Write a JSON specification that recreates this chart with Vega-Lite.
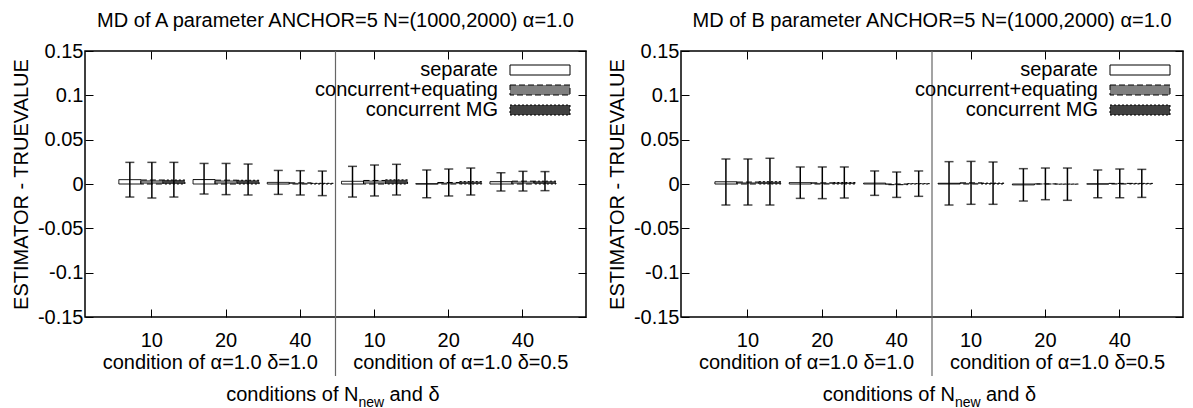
{
  "$schema": "https://vega.github.io/schema/vega-lite/v6.json",
  "padding": {"left": 10, "top": 10, "right": 2, "bottom": 0},
  "spacing": 18,
  "datasets": {
    "est": [
      {"panel": "A", "cond": "10 δ=1.0", "series": "separate", "value": 0.0049, "lo": -0.0147, "hi": 0.0244},
      {"panel": "A", "cond": "10 δ=1.0", "series": "concurrent+equating", "value": 0.0045, "lo": -0.0158, "hi": 0.0244},
      {"panel": "A", "cond": "10 δ=1.0", "series": "concurrent MG", "value": 0.0045, "lo": -0.0147, "hi": 0.0244},
      {"panel": "A", "cond": "20 δ=1.0", "series": "separate", "value": 0.0050, "lo": -0.0113, "hi": 0.0232},
      {"panel": "A", "cond": "20 δ=1.0", "series": "concurrent+equating", "value": 0.0043, "lo": -0.0120, "hi": 0.0232},
      {"panel": "A", "cond": "20 δ=1.0", "series": "concurrent MG", "value": 0.0042, "lo": -0.0124, "hi": 0.0225},
      {"panel": "A", "cond": "40 δ=1.0", "series": "separate", "value": 0.0018, "lo": -0.0117, "hi": 0.0153},
      {"panel": "A", "cond": "40 δ=1.0", "series": "concurrent+equating", "value": 0.0013, "lo": -0.0124, "hi": 0.0150},
      {"panel": "A", "cond": "40 δ=1.0", "series": "concurrent MG", "value": 0.0008, "lo": -0.0131, "hi": 0.0146},
      {"panel": "A", "cond": "10 δ=0.5", "series": "separate", "value": 0.0030, "lo": -0.0147, "hi": 0.0199},
      {"panel": "A", "cond": "10 δ=0.5", "series": "concurrent+equating", "value": 0.0040, "lo": -0.0135, "hi": 0.0214},
      {"panel": "A", "cond": "10 δ=0.5", "series": "concurrent MG", "value": 0.0047, "lo": -0.0124, "hi": 0.0222},
      {"panel": "A", "cond": "20 δ=0.5", "series": "separate", "value": 0.0003, "lo": -0.0155, "hi": 0.0158},
      {"panel": "A", "cond": "20 δ=0.5", "series": "concurrent+equating", "value": 0.0017, "lo": -0.0135, "hi": 0.0169},
      {"panel": "A", "cond": "20 δ=0.5", "series": "concurrent MG", "value": 0.0027, "lo": -0.0124, "hi": 0.0180},
      {"panel": "A", "cond": "40 δ=0.5", "series": "separate", "value": 0.0026, "lo": -0.0079, "hi": 0.0127},
      {"panel": "A", "cond": "40 δ=0.5", "series": "concurrent+equating", "value": 0.0032, "lo": -0.0079, "hi": 0.0143},
      {"panel": "A", "cond": "40 δ=0.5", "series": "concurrent MG", "value": 0.0032, "lo": -0.0075, "hi": 0.0140},
      {"panel": "B", "cond": "10 δ=1.0", "series": "separate", "value": 0.0025, "lo": -0.0237, "hi": 0.0282},
      {"panel": "B", "cond": "10 δ=1.0", "series": "concurrent+equating", "value": 0.0022, "lo": -0.0237, "hi": 0.0282},
      {"panel": "B", "cond": "10 δ=1.0", "series": "concurrent MG", "value": 0.0026, "lo": -0.0237, "hi": 0.0290},
      {"panel": "B", "cond": "20 δ=1.0", "series": "separate", "value": 0.0016, "lo": -0.0162, "hi": 0.0192},
      {"panel": "B", "cond": "20 δ=1.0", "series": "concurrent+equating", "value": 0.0013, "lo": -0.0165, "hi": 0.0192},
      {"panel": "B", "cond": "20 δ=1.0", "series": "concurrent MG", "value": 0.0017, "lo": -0.0158, "hi": 0.0192},
      {"panel": "B", "cond": "40 δ=1.0", "series": "separate", "value": 0.0010, "lo": -0.0128, "hi": 0.0147},
      {"panel": "B", "cond": "40 δ=1.0", "series": "concurrent+equating", "value": -0.0008, "lo": -0.0151, "hi": 0.0135},
      {"panel": "B", "cond": "40 δ=1.0", "series": "concurrent MG", "value": 0.0004, "lo": -0.0139, "hi": 0.0147},
      {"panel": "B", "cond": "10 δ=0.5", "series": "separate", "value": 0.0008, "lo": -0.0237, "hi": 0.0252},
      {"panel": "B", "cond": "10 δ=0.5", "series": "concurrent+equating", "value": 0.0013, "lo": -0.0229, "hi": 0.0255},
      {"panel": "B", "cond": "10 δ=0.5", "series": "concurrent MG", "value": 0.0010, "lo": -0.0229, "hi": 0.0248},
      {"panel": "B", "cond": "20 δ=0.5", "series": "separate", "value": -0.0010, "lo": -0.0192, "hi": 0.0173},
      {"panel": "B", "cond": "20 δ=0.5", "series": "concurrent+equating", "value": 0.0001, "lo": -0.0177, "hi": 0.0180},
      {"panel": "B", "cond": "20 δ=0.5", "series": "concurrent MG", "value": -0.0002, "lo": -0.0184, "hi": 0.0180},
      {"panel": "B", "cond": "40 δ=0.5", "series": "separate", "value": 0.0001, "lo": -0.0155, "hi": 0.0158},
      {"panel": "B", "cond": "40 δ=0.5", "series": "concurrent+equating", "value": 0.0007, "lo": -0.0155, "hi": 0.0169},
      {"panel": "B", "cond": "40 δ=0.5", "series": "concurrent MG", "value": 0.0007, "lo": -0.0151, "hi": 0.0165}
    ],
    "halves": [{"half": "condition of α=1.0 δ=0.5"}]
  },
  "hconcat": [
    {
      "title": "MD of A parameter ANCHOR=5 N=(1000,2000) α=1.0",
      "width": 501,
      "height": 266,
      "layer": [
        {
          "data": {"name": "est"},
          "transform": [{"filter": "datum.panel == 'A'"}],
          "layer": [
            {
              "mark": {"type": "bar", "stroke": "black", "strokeWidth": 1},
              "encoding": {
                "x": {"field": "cond", "type": "nominal", "sort": null, "scale": {"domain": ["10 δ=1.0", "20 δ=1.0", "40 δ=1.0", "10 δ=0.5", "20 δ=0.5", "40 δ=0.5"], "paddingInner": 0.11, "paddingOuter": 0.43, "align": 0.53}, "axis": {"orient": "bottom", "title": null, "labelExpr": "split(datum.label, ' ')[0]", "labelPadding": 21, "labelAngle": 0}},
                "xOffset": {"field": "series", "type": "nominal", "sort": null, "scale": {"domain": ["separate", "concurrent+equating", "concurrent MG"], "paddingInner": 0, "paddingOuter": 0}},
                "y": {"field": "value", "type": "quantitative", "scale": {"domain": [-0.15, 0.15], "nice": false, "zero": false}, "axis": {"orient": "left", "title": "ESTIMATOR - TRUEVALUE", "values": [-0.15, -0.1, -0.05, 0, 0.05, 0.1, 0.15], "labelExpr": "replace(format(datum.value, '.2~f'), '−', '-')", "labelPadding": 10, "titlePadding": 6}},
                "y2": {"datum": 0},
                "fill": {"field": "series", "type": "nominal", "scale": {"domain": ["separate", "concurrent+equating", "concurrent MG"], "range": ["#ffffff", "#808080", "#404040"]}, "legend": {"orient": "none", "legendX": 445, "legendY": 9, "title": null, "symbolType": "M-6,-1H6V1H-6Z", "symbolSize": 100, "labelAlign": "right", "labelOffset": -52, "labelFontSize": 20, "labelLimit": 0, "symbolStrokeColor": "black", "symbolStrokeWidth": 1, "rowPadding": 0, "padding": 0, "symbolOpacity": 1, "encode": {"symbols": {"update": {"stroke": {"value": "black"}, "strokeWidth": {"value": 1}}}}}},
                "strokeDash": {"field": "series", "type": "nominal", "scale": {"domain": ["separate", "concurrent+equating", "concurrent MG"], "range": [[1, 0], [6, 3], [2, 2]]}, "legend": {"orient": "none", "legendX": 445, "legendY": 9, "title": null, "symbolType": "M-6,-1H6V1H-6Z", "symbolSize": 100, "labelAlign": "right", "labelOffset": -52, "labelFontSize": 20, "labelLimit": 0, "symbolStrokeColor": "black", "symbolStrokeWidth": 1, "rowPadding": 0, "padding": 0, "symbolOpacity": 1, "encode": {"symbols": {"update": {"stroke": {"value": "black"}, "strokeWidth": {"value": 1}}}}}}
              }
            },
            {
              "mark": {"type": "rule", "color": "black", "strokeWidth": 1.5},
              "encoding": {
                "x": {"field": "cond", "type": "nominal", "sort": null, "axis": null},
                "xOffset": {"field": "series", "type": "nominal", "sort": null},
                "y": {"field": "lo", "type": "quantitative", "axis": null},
                "y2": {"field": "hi"}
              }
            },
            {
              "mark": {"type": "tick", "color": "black", "size": 9, "thickness": 1.5, "orient": "horizontal"},
              "encoding": {
                "x": {"field": "cond", "type": "nominal", "sort": null, "axis": {"orient": "top", "labels": false, "title": null}},
                "xOffset": {"field": "series", "type": "nominal", "sort": null},
                "y": {"field": "hi", "type": "quantitative", "axis": {"orient": "right", "labels": false, "title": null, "values": [-0.15, -0.1, -0.05, 0, 0.05, 0.1, 0.15]}}
              }
            },
            {
              "mark": {"type": "tick", "color": "black", "size": 9, "thickness": 1.5, "orient": "horizontal"},
              "encoding": {
                "x": {"field": "cond", "type": "nominal", "sort": null, "axis": null},
                "xOffset": {"field": "series", "type": "nominal", "sort": null},
                "y": {"field": "lo", "type": "quantitative", "axis": null}
              }
            }
          ],
          "resolve": {"axis": {"x": "independent", "y": "independent"}}
        },
        {
          "data": {"name": "halves"},
          "layer": [
            {
              "mark": {"type": "rule", "color": "#666666", "strokeWidth": 1.2},
              "encoding": {
                "x": {"field": "half", "type": "nominal", "bandPosition": 0, "scale": {"domain": ["condition of α=1.0 δ=1.0", "condition of α=1.0 δ=0.5"], "paddingInner": 0, "paddingOuter": 0}, "axis": {"orient": "bottom", "title": null, "ticks": false, "labelPadding": 35, "labelAngle": 0}},
                "y": {"datum": 0.15, "type": "quantitative", "scale": {"domain": [-0.15, 0.15]}, "axis": null},
                "y2": {"datum": -0.2165}
              }
            },
            {
              "mark": {"type": "text", "text": "conditions of N", "align": "right", "baseline": "alphabetic", "fontSize": 20, "dx": 23, "dy": 84, "font": "Liberation Sans", "color": "black"},
              "encoding": {
                "x": {"field": "half", "type": "nominal", "bandPosition": 0},
                "y": {"datum": -0.15, "type": "quantitative"}
              }
            },
            {
              "mark": {"type": "text", "text": "new", "align": "left", "baseline": "alphabetic", "fontSize": 14, "dx": 23, "dy": 90, "font": "Liberation Sans", "color": "black"},
              "encoding": {
                "x": {"field": "half", "type": "nominal", "bandPosition": 0},
                "y": {"datum": -0.15, "type": "quantitative"}
              }
            },
            {
              "mark": {"type": "text", "text": "and δ", "align": "left", "baseline": "alphabetic", "fontSize": 20, "dx": 54, "dy": 84, "font": "Liberation Sans", "color": "black"},
              "encoding": {
                "x": {"field": "half", "type": "nominal", "bandPosition": 0},
                "y": {"datum": -0.15, "type": "quantitative"}
              }
            }
          ]
        }
      ],
      "resolve": {"scale": {"x": "independent"}, "axis": {"x": "independent", "y": "independent"}}
    },
    {
      "title": "MD of B parameter ANCHOR=5 N=(1000,2000) α=1.0",
      "width": 502,
      "height": 266,
      "layer": [
        {
          "data": {"name": "est"},
          "transform": [{"filter": "datum.panel == 'B'"}],
          "layer": [
            {
              "mark": {"type": "bar", "stroke": "black", "strokeWidth": 1},
              "encoding": {
                "x": {"field": "cond", "type": "nominal", "sort": null, "scale": {"domain": ["10 δ=1.0", "20 δ=1.0", "40 δ=1.0", "10 δ=0.5", "20 δ=0.5", "40 δ=0.5"], "paddingInner": 0.11, "paddingOuter": 0.43, "align": 0.53}, "axis": {"orient": "bottom", "title": null, "labelExpr": "split(datum.label, ' ')[0]", "labelPadding": 21, "labelAngle": 0}},
                "xOffset": {"field": "series", "type": "nominal", "sort": null, "scale": {"domain": ["separate", "concurrent+equating", "concurrent MG"], "paddingInner": 0, "paddingOuter": 0}},
                "y": {"field": "value", "type": "quantitative", "scale": {"domain": [-0.15, 0.15], "nice": false, "zero": false}, "axis": {"orient": "left", "title": "ESTIMATOR - TRUEVALUE", "values": [-0.15, -0.1, -0.05, 0, 0.05, 0.1, 0.15], "labelExpr": "replace(format(datum.value, '.2~f'), '−', '-')", "labelPadding": 10, "titlePadding": 6}},
                "y2": {"datum": 0},
                "fill": {"field": "series", "type": "nominal", "scale": {"domain": ["separate", "concurrent+equating", "concurrent MG"], "range": ["#ffffff", "#808080", "#404040"]}, "legend": {"orient": "none", "legendX": 449, "legendY": 9, "title": null, "symbolType": "M-6,-1H6V1H-6Z", "symbolSize": 100, "labelAlign": "right", "labelOffset": -52, "labelFontSize": 20, "labelLimit": 0, "symbolStrokeColor": "black", "symbolStrokeWidth": 1, "rowPadding": 0, "padding": 0, "symbolOpacity": 1, "encode": {"symbols": {"update": {"stroke": {"value": "black"}, "strokeWidth": {"value": 1}}}}}},
                "strokeDash": {"field": "series", "type": "nominal", "scale": {"domain": ["separate", "concurrent+equating", "concurrent MG"], "range": [[1, 0], [6, 3], [2, 2]]}, "legend": {"orient": "none", "legendX": 449, "legendY": 9, "title": null, "symbolType": "M-6,-1H6V1H-6Z", "symbolSize": 100, "labelAlign": "right", "labelOffset": -52, "labelFontSize": 20, "labelLimit": 0, "symbolStrokeColor": "black", "symbolStrokeWidth": 1, "rowPadding": 0, "padding": 0, "symbolOpacity": 1, "encode": {"symbols": {"update": {"stroke": {"value": "black"}, "strokeWidth": {"value": 1}}}}}}
              }
            },
            {
              "mark": {"type": "rule", "color": "black", "strokeWidth": 1.5},
              "encoding": {
                "x": {"field": "cond", "type": "nominal", "sort": null, "axis": null},
                "xOffset": {"field": "series", "type": "nominal", "sort": null},
                "y": {"field": "lo", "type": "quantitative", "axis": null},
                "y2": {"field": "hi"}
              }
            },
            {
              "mark": {"type": "tick", "color": "black", "size": 9, "thickness": 1.5, "orient": "horizontal"},
              "encoding": {
                "x": {"field": "cond", "type": "nominal", "sort": null, "axis": {"orient": "top", "labels": false, "title": null}},
                "xOffset": {"field": "series", "type": "nominal", "sort": null},
                "y": {"field": "hi", "type": "quantitative", "axis": {"orient": "right", "labels": false, "title": null, "values": [-0.15, -0.1, -0.05, 0, 0.05, 0.1, 0.15]}}
              }
            },
            {
              "mark": {"type": "tick", "color": "black", "size": 9, "thickness": 1.5, "orient": "horizontal"},
              "encoding": {
                "x": {"field": "cond", "type": "nominal", "sort": null, "axis": null},
                "xOffset": {"field": "series", "type": "nominal", "sort": null},
                "y": {"field": "lo", "type": "quantitative", "axis": null}
              }
            }
          ],
          "resolve": {"axis": {"x": "independent", "y": "independent"}}
        },
        {
          "data": {"name": "halves"},
          "layer": [
            {
              "mark": {"type": "rule", "color": "#666666", "strokeWidth": 1.2},
              "encoding": {
                "x": {"field": "half", "type": "nominal", "bandPosition": 0, "scale": {"domain": ["condition of α=1.0 δ=1.0", "condition of α=1.0 δ=0.5"], "paddingInner": 0, "paddingOuter": 0}, "axis": {"orient": "bottom", "title": null, "ticks": false, "labelPadding": 35, "labelAngle": 0}},
                "y": {"datum": 0.15, "type": "quantitative", "scale": {"domain": [-0.15, 0.15]}, "axis": null},
                "y2": {"datum": -0.2165}
              }
            },
            {
              "mark": {"type": "text", "text": "conditions of N", "align": "right", "baseline": "alphabetic", "fontSize": 20, "dx": 23, "dy": 84, "font": "Liberation Sans", "color": "black"},
              "encoding": {
                "x": {"field": "half", "type": "nominal", "bandPosition": 0},
                "y": {"datum": -0.15, "type": "quantitative"}
              }
            },
            {
              "mark": {"type": "text", "text": "new", "align": "left", "baseline": "alphabetic", "fontSize": 14, "dx": 23, "dy": 90, "font": "Liberation Sans", "color": "black"},
              "encoding": {
                "x": {"field": "half", "type": "nominal", "bandPosition": 0},
                "y": {"datum": -0.15, "type": "quantitative"}
              }
            },
            {
              "mark": {"type": "text", "text": "and δ", "align": "left", "baseline": "alphabetic", "fontSize": 20, "dx": 54, "dy": 84, "font": "Liberation Sans", "color": "black"},
              "encoding": {
                "x": {"field": "half", "type": "nominal", "bandPosition": 0},
                "y": {"datum": -0.15, "type": "quantitative"}
              }
            }
          ]
        }
      ],
      "resolve": {"scale": {"x": "independent"}, "axis": {"x": "independent", "y": "independent"}}
    }
  ],
  "resolve": {"scale": {"fill": "independent", "strokeDash": "independent"}, "legend": {"fill": "independent", "strokeDash": "independent"}},
  "config": {
    "font": "Liberation Sans",
    "view": {"stroke": "black", "strokeWidth": 1.5},
    "title": {"fontSize": 20, "fontWeight": "normal", "font": "Liberation Sans", "color": "black", "offset": 10},
    "axis": {"labelFont": "Liberation Sans", "titleFont": "Liberation Sans", "labelFontSize": 20, "titleFontSize": 20, "titleFontWeight": "normal", "labelColor": "black", "titleColor": "black", "tickColor": "black", "tickSize": -8, "tickWidth": 1, "domain": false, "grid": false, "labelLimit": 0},
    "legend": {"labelFont": "Liberation Sans", "labelColor": "black", "labelLimit": 0}
  }
}
